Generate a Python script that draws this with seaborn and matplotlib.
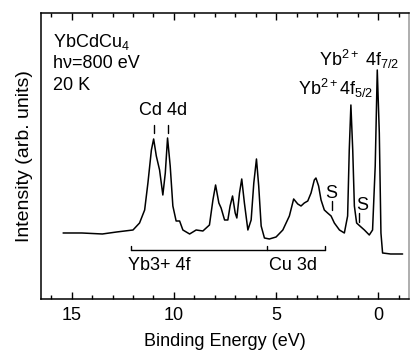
import matplotlib
matplotlib.use("Agg")
import matplotlib.pyplot as plt
from matplotlib.ticker import MultipleLocator
import seaborn as sns
import pandas as pd

# Spectrum (binding energy in eV, intensity arb. units)
energy = [15.42, 14.5, 13.5, 12.8, 12.0, 11.68, 11.43, 11.27, 11.1, 10.99, 10.86, 10.7, 10.54,
          10.42, 10.31, 10.18, 10.05, 9.89, 9.72, 9.56, 9.23, 8.91, 8.58, 8.26, 8.09, 7.96,
          7.8, 7.69, 7.52, 7.36, 7.25, 7.13, 7.0, 6.92, 6.79, 6.68, 6.55, 6.38, 6.22, 6.09,
          5.96, 5.85, 5.73, 5.57, 5.33, 5.0, 4.67, 4.35, 4.14, 3.94, 3.78, 3.62, 3.45, 3.29,
          3.13, 3.05, 2.92, 2.8, 2.64, 2.48, 2.31, 2.15, 1.9, 1.66, 1.5, 1.42, 1.34, 1.25,
          1.17, 1.06, 0.9, 0.68, 0.44, 0.28, 0.15, 0.05, -0.05, -0.13, -0.21, -0.6, -1.19]
intensity = [66, 66, 65, 67, 69, 76, 89, 116, 149, 160, 143, 129, 104,
             126, 161, 133, 93, 78, 78, 69, 65, 69, 68, 74, 99, 114,
             96, 91, 79, 79, 93, 103, 86, 81, 106, 120, 96, 69, 79, 116,
             140, 113, 73, 61, 60, 62, 69, 83, 100, 95, 93, 96, 98, 106,
             119, 121, 113, 99, 89, 86, 83, 76, 69, 66, 83, 149, 194, 149,
             93, 76, 73, 69, 64, 69, 133, 229, 166, 66, 46, 45, 45]

x_ticks = [15, 10, 5, 0]
x_ticklabels = ["15", "10", "5", "0"]
info_lines = ["YbCdCu$_4$", "h\u03bd=800 eV", "20 K"]
cd_peaks = [10.99, 10.31]
s_marks = [2.28, 0.93]
bracket_ends = [12.08, 5.46, 2.59]

sns.set_theme(style="white")
plt.rcParams["font.family"] = ["Liberation Sans", "DejaVu Sans"]
plt.rcParams["mathtext.fontset"] = "custom"
plt.rcParams["mathtext.rm"] = "Liberation Sans"
plt.rcParams["mathtext.it"] = "Liberation Sans:italic"
plt.rcParams["mathtext.bf"] = "Liberation Sans:bold"
plt.rcParams["text.color"] = "black"
plt.rcParams["axes.labelcolor"] = "black"
plt.rcParams["xtick.color"] = "black"
plt.rcParams["ytick.color"] = "black"

fig = plt.figure(figsize=(4.11, 3.52), dpi=100)
ax = fig.add_axes([0.0998, 0.1506, 0.8952, 0.8125])

df = pd.DataFrame({"E": energy, "I": intensity})
sns.lineplot(data=df, x="E", y="I", ax=ax, color="black", linewidth=1.1)

ax.set_xlim(16.5, -1.5)
ax.set_ylim(0, 286)
ax.set_xticks(x_ticks)
ax.set_xticklabels(x_ticklabels)
ax.xaxis.set_minor_locator(MultipleLocator(1))
ax.set_yticks([])
ax.tick_params(axis="x", which="both", direction="in", top=True, bottom=True,
               colors="black", labelsize=13, pad=6)
ax.tick_params(axis="x", which="major", length=5, width=1)
ax.tick_params(axis="x", which="minor", length=3, width=1)
for s in ax.spines.values():
    s.set_color("black")
    s.set_linewidth(1.1)
ax.spines["right"].set_color("#999999")

ax.set_xlabel("Binding Energy (eV)", fontsize=13, labelpad=6, color="black")
ax.set_ylabel("Intensity (arb. units)", fontsize=14, labelpad=6, color="black")

fs = 13
for txt, yy in zip(info_lines, [252, 231, 209]):
    ax.text(15.93, yy, txt, fontsize=fs, ha="left", va="baseline", color="black")

ax.text(10.55, 184, "Cd 4d", fontsize=fs, ha="center", va="baseline", color="black")
for e in cd_peaks:
    ax.plot([e, e], [166, 174], color="black", lw=1)

ax.text(-1.03, 233, "Yb$^{2+}$ 4f$_{7/2}$", fontsize=fs, ha="right", va="baseline", color="black")
ax.text(0.24, 204, "Yb$^{2+}$4f$_{5/2}$", fontsize=fs, ha="right", va="baseline", color="black")

ax.text(2.30, 101, "S", fontsize=fs, ha="center", va="baseline", color="black")
ax.plot([s_marks[0]] * 2, [89, 98], color="black", lw=1)
ax.text(0.80, 89, "S", fontsize=fs, ha="center", va="baseline", color="black")
ax.plot([s_marks[1]] * 2, [77, 86], color="black", lw=1)

ax.plot([bracket_ends[0], bracket_ends[-1]], [48.7, 48.7], color="black", lw=1)
for e in bracket_ends:
    ax.plot([e, e], [48.7, 52.5], color="black", lw=1)
ax.text(12.25, 29, "Yb3+ 4f", fontsize=fs, ha="left", va="baseline", color="black")
ax.text(5.36, 29, "Cu 3d", fontsize=fs, ha="left", va="baseline", color="black")

fig.savefig("out.png", dpi=100)
